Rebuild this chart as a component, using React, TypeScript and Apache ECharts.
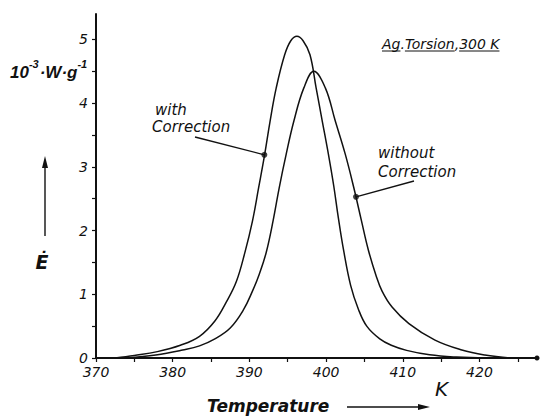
import React, { useEffect, useRef } from "react";
import * as echarts from "echarts";

// Temperature (K) and dissipated power Ė (10^-3 W g^-1)
const withT = [372.5, 375, 378, 381, 383.5, 385.5, 387, 388.3, 389.4, 390.4, 391.2, 392, 392.7, 393.5, 394.6, 395.4, 396.2, 397, 397.9, 398.7, 399.5, 400.3, 401, 401.6, 402.3, 403.2, 404.2, 405.3, 407, 408.5, 410.5, 413.5, 417, 421];
const withE = [0, 0.04, 0.1, 0.2, 0.34, 0.58, 0.88, 1.2, 1.65, 2.15, 2.67, 3.2, 3.72, 4.24, 4.76, 4.98, 5.05, 4.98, 4.76, 4.24, 3.72, 3.2, 2.7, 2.2, 1.68, 1.14, 0.77, 0.5, 0.3, 0.2, 0.12, 0.05, 0.015, 0];

const withoutT = [374, 377.8, 381.3, 383.5, 385.5, 387.5, 389.2, 390.4, 391.3, 392.2, 393.1, 393.9, 394.8, 395.8, 397.1, 398.4, 399.9, 401.2, 402.5, 403.6, 404.6, 405.5, 406.5, 407.3, 408.6, 410.8, 414.2, 417.7, 420.7, 424];
const withoutE = [0, 0.047, 0.125, 0.19, 0.3, 0.47, 0.75, 1.05, 1.32, 1.66, 2.16, 2.68, 3.2, 3.72, 4.24, 4.5, 4.24, 3.72, 3.2, 2.68, 2.16, 1.7, 1.3, 1.05, 0.8, 0.54, 0.28, 0.125, 0.047, 0];

const markerWith = [391.95, 3.19];
const markerWithout = [403.9, 2.53];

const xMin = 370;
const xMax = 427.5;
const xInterval = 5;
const yMin = 0;
const yMax = 5.4;
const yInterval = 0.5;

const FONT = "DejaVu Sans";
const UNIT_FONT = "Liberation Sans";
const INK = "#111";

export default function App() {
  const ref = useRef<HTMLDivElement>(null);
  useEffect(() => {
    if (!ref.current) return;
    const chart = echarts.init(ref.current, null, { renderer: "svg" });
    const pair = (t: number[], e: number[]) => t.map((v, i) => [v, e[i]]);
    chart.setOption({
      animation: false,
      backgroundColor: "#fff",
      grid: { left: 96, right: 3, top: 14, bottom: 59 },
      xAxis: {
        type: "value",
        min: xMin,
        max: xMax,
        interval: xInterval,
        axisLine: { lineStyle: { color: INK, width: 2 }, symbol: ["none", "circle"], symbolSize: [5, 5] },
        axisTick: { inside: false, length: 4, lineStyle: { color: INK, width: 1.2 } },
        splitLine: { show: false },
        axisLabel: {
          color: INK,
          fontFamily: FONT,
          fontStyle: "italic",
          fontSize: 14,
          margin: 7,
          showMaxLabel: false,
          formatter: (v: number) => (Math.abs(v % 10) < 1e-6 ? String(Math.round(v)) : ""),
        },
      },
      yAxis: {
        type: "value",
        min: yMin,
        max: yMax,
        interval: yInterval,
        axisLine: { show: true, lineStyle: { color: INK, width: 2 } },
        axisTick: { show: true, inside: false, length: 4, lineStyle: { color: INK, width: 1.2 } },
        splitLine: { show: false },
        axisLabel: {
          color: INK,
          fontFamily: FONT,
          fontStyle: "italic",
          fontSize: 14,
          margin: 8,
          showMaxLabel: false,
          formatter: (v: number) => (Math.abs(v - Math.round(v)) < 1e-6 ? String(Math.round(v)) : ""),
        },
      },
      series: [
        {
          type: "line",
          data: pair(withT, withE),
          smooth: 0.4,
          symbol: "none",
          lineStyle: { color: INK, width: 1.5 },
        },
        {
          type: "line",
          data: pair(withoutT, withoutE),
          smooth: 0.4,
          symbol: "none",
          lineStyle: { color: INK, width: 1.5 },
        },
        {
          type: "scatter",
          data: [markerWith, markerWithout],
          symbolSize: 6,
          itemStyle: { color: INK },
        },
      ],
    });

    const pW = chart.convertToPixel({ gridIndex: 0 }, markerWith) as number[];
    const pWo = chart.convertToPixel({ gridIndex: 0 }, markerWithout) as number[];
    const txt = (x: number, y: number, text: string, size: number, extra: any = {}) => ({
      type: "text",
      x,
      y,
      style: {
        text,
        fill: INK,
        font: `italic ${extra.weight || "normal"} ${size}px "${extra.family || FONT}"`,
        align: extra.align || "left",
        verticalAlign: "middle",
      },
    });
    const ln = (x1: number, y1: number, x2: number, y2: number, w = 1.3) => ({
      type: "line",
      shape: { x1, y1, x2, y2 },
      style: { stroke: INK, lineWidth: w },
    });

    const ctx = document.createElement("canvas").getContext("2d")!;
    const measure = (s: string, font: string) => {
      ctx.font = font;
      return ctx.measureText(s).width;
    };

    // title with underlines
    const titleFont = `italic normal 14px "${FONT}"`;
    const w = (s: string) => measure(s, titleFont);
    const tx = 382;
    const title = "Ag.Torsion,300 K";
    const uY = 51;

    // unit label pieces
    const bigU = `italic bold 17px "${UNIT_FONT}"`;
    const supU = `italic bold 11px "${UNIT_FONT}"`;
    const u1 = 10;
    const u2 = u1 + measure("10", bigU);
    const u3 = u2 + measure("-3", supU) + 1;
    const u4 = u3 + measure("·W·g", bigU);
    const uo = { weight: "bold", family: UNIT_FONT };

    chart.setOption({
      graphic: [
        txt(tx, 44, title, 14),
        ln(tx, uY, tx + w("Ag"), uY, 1),
        ln(tx + w("Ag."), uY, tx + w("Ag.Torsion"), uY, 1),
        ln(tx + w("Ag.Torsion,"), uY, tx + w(title), uY, 1),
        txt(155, 110, "with", 15),
        txt(152, 127, "Correction", 15),
        ln(195, 137, pW[0], pW[1]),
        txt(378, 153, "without", 15),
        txt(378, 172, "Correction", 15),
        ln(414, 181, pWo[0], pWo[1]),
        txt(u1, 72, "10", 17, uo),
        txt(u2, 64, "-3", 11, uo),
        txt(u3, 72, "·W·g", 17, uo),
        txt(u4, 64, "-1", 11, uo),
        ln(45, 236, 45, 166, 1.4),
        { type: "polygon", shape: { points: [[45, 156], [42, 168], [48, 168]] }, style: { fill: INK } },
        txt(42, 262, "Ė", 19, { weight: "bold", align: "center" }),
        txt(207, 406, "Temperature", 17, { weight: "bold" }),
        ln(347, 407, 420, 407, 1.4),
        { type: "polygon", shape: { points: [[430, 407], [418, 404], [418, 410]] }, style: { fill: INK } },
        txt(435, 389, "K", 20),
      ],
    });
    return () => chart.dispose();
  }, []);
  return <div ref={ref} style={{ width: 540, height: 417, position: "fixed", left: 0, top: 0 }} />;
}
